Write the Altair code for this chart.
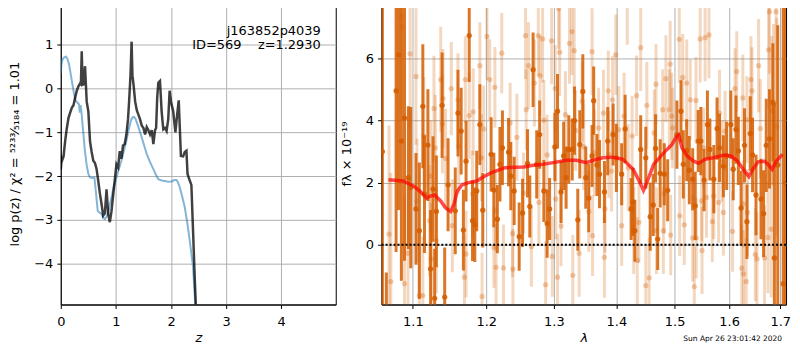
import altair as alt
import pandas as pd

FONT = "DejaVu Sans"

# ---------------- left panel: p(z) ----------------
z_pz = [0.0, 0.015, 0.03, 0.05, 0.08, 0.11, 0.14, 0.17, 0.20, 0.23,
        0.26, 0.29, 0.32, 0.35, 0.365, 0.38, 0.395, 0.41, 0.425, 0.44,
        0.455, 0.47, 0.50, 0.53, 0.56, 0.59, 0.62, 0.65, 0.68, 0.71,
        0.74, 0.77, 0.80, 0.83, 0.86, 0.89, 0.92, 0.94, 0.97, 1.01,
        1.04, 1.07, 1.10, 1.13, 1.16, 1.19, 1.22, 1.24, 1.265, 1.285,
        1.30, 1.32, 1.35, 1.38, 1.41, 1.44, 1.47, 1.50, 1.53, 1.56,
        1.59, 1.62, 1.65, 1.68, 1.71, 1.73, 1.75, 1.77, 1.80, 1.83,
        1.86, 1.89, 1.92, 1.95, 1.975, 2.0, 2.04, 2.08, 2.10, 2.14,
        2.16, 2.18, 2.22, 2.25, 2.28, 2.30, 2.34, 2.37, 2.40, 2.43,
        2.45, 2.48]
logp_pz = [-1.85, -1.58, -1.62, -1.55, -1.19, -0.90, -0.67, -0.55, -0.44, -0.38,
           -0.21, -0.05, 0.05, 0.12, 0.10, 0.85, 0.12, 0.07, 0.30, 0.51,
           0.10, -0.30, -0.52, -1.20, -1.45, -1.65, -1.70, -1.84, -2.11, -2.40,
           -2.64, -2.90, -2.85, -2.30, -2.86, -3.05, -2.80, -2.56, -2.20, -1.73,
           -1.80, -1.43, -1.60, -1.30, -1.27, -1.05, -0.70, -0.29, 0.30, 1.07,
           0.30, 0.09, -0.30, -0.50, -0.60, -0.71, -0.85, -0.90, -1.05, -0.88,
           -0.95, -1.05, -0.95, -1.27, -0.95, -0.90, -0.20, 0.13, 0.17, -0.52,
           -0.93, -0.90, -0.97, -0.70, -0.05, -0.30, -0.52, -1.00, -0.74, -0.27,
           -0.90, -1.54, -1.55, -1.45, -1.42, -1.95, -2.10, -2.20, -3.24, -4.30,
           -4.93, -5.60]

z_prior = [0.0, 0.01, 0.03, 0.06, 0.09, 0.12, 0.15, 0.18, 0.21, 0.24,
           0.27, 0.30, 0.33, 0.345, 0.36, 0.38, 0.41, 0.44, 0.47, 0.50,
           0.53, 0.57, 0.61, 0.64, 0.67, 0.71, 0.74, 0.77, 0.80, 0.83,
           0.86, 0.89, 0.92, 0.96, 1.01, 1.05, 1.10, 1.15, 1.19, 1.23,
           1.27, 1.30, 1.33, 1.36, 1.40, 1.44, 1.47, 1.52, 1.56, 1.62,
           1.68, 1.73, 1.77, 1.83, 1.89, 1.95, 2.01, 2.06, 2.10, 2.13,
           2.16, 2.20, 2.25, 2.30, 2.34, 2.40, 2.44, 2.48]
logp_prior = [0.35, 0.55, 0.66, 0.71, 0.73, 0.68, 0.55, 0.33, 0.10, -0.12,
              -0.28, -0.32, -0.36, -0.55, -0.38, -0.60, -1.04, -1.45, -1.75, -1.95,
              -2.03, -2.04, -2.03, -2.40, -2.79, -2.84, -2.86, -2.95, -2.98, -2.92,
              -2.84, -2.65, -2.49, -2.25, -2.03, -1.85, -1.65, -1.40, -1.19, -0.95,
              -0.74, -0.66, -0.65, -0.70, -0.85, -1.00, -1.12, -1.33, -1.50, -1.68,
              -1.84, -1.98, -2.07, -2.10, -2.11, -2.13, -2.12, -2.09, -2.09, -2.15,
              -2.26, -2.45, -2.71, -3.10, -3.47, -4.07, -4.93, -5.50]

label_lines = ["j163852p4039", "ID=569\u00a0\u00a0\u00a0\u00a0z=1.2930"]

z_ticks = [0, 1, 2, 3, 4]
logp_ticks = [-4, -3, -2, -1, 0, 1]

# ---------------- right panel: spectrum ----------------
lam_dark = [1.061, 1.066, 1.0784, 1.0815, 1.0852, 1.0892, 1.0942, 1.0973, 1.1041, 1.1085,
            1.1131, 1.1153, 1.1198, 1.1234, 1.1266, 1.1288, 1.1311, 1.1388, 1.1423, 1.1469,
            1.1567, 1.1604, 1.1648, 1.1679, 1.1716, 1.176, 1.1806, 1.1838, 1.1865, 1.1909,
            1.195, 1.2069, 1.2108, 1.2158, 1.2196, 1.2232, 1.2321, 1.2354, 1.2403, 1.2477,
            1.2527, 1.2601, 1.2635, 1.2684, 1.2739, 1.2783, 1.2847, 1.2897, 1.2935, 1.3016,
            1.3057, 1.3111, 1.3152, 1.319, 1.3232, 1.3286, 1.3322, 1.3374, 1.3406, 1.3454,
            1.3501, 1.3549, 1.3602, 1.3628, 1.3682, 1.3723, 1.3803, 1.3857, 1.3946, 1.4,
            1.4088, 1.4146, 1.4246, 1.4274, 1.4309, 1.4409, 1.4496, 1.4572, 1.4624, 1.4665,
            1.4702, 1.4745, 1.4817, 1.4877, 1.5041, 1.5113, 1.5155, 1.5216, 1.5263, 1.5324,
            1.5371, 1.5425, 1.5473, 1.5532, 1.5594, 1.564, 1.5712, 1.5773, 1.582, 1.5892,
            1.5953, 1.6033, 1.6078, 1.6131, 1.6176, 1.6229, 1.6294, 1.6341, 1.6406, 1.6451,
            1.6518, 1.6616, 1.6667, 1.672, 1.6784, 1.6851, 1.6882, 1.6949, 1.7059, 1.7105,
            1.7255]
flux_dark = [3.0, -3.2, 4.96, 6.12, 3.34, 4.08, 2.16, 1.84, 1.15, 0.45,
             4.46, 1.63, 3.21, -0.78, 1.79, -1.73, 1.07, 4.49, -1.69, 1.93,
             1.09, 4.24, 3.66, 0.47, 2.69, 6.74, 0.77, 0.64, 1.73, 3.87,
             1.11, 2.91, 1.76, 0.82, 2.59, 3.12, 2.98, 2.21, 1.73, 0.26,
             1.02, 2.62, 1.23, 5.64, 2.59, 3.55, 1.73, 0.68, 1.15, 3.15,
             4.30, 1.70, 2.86, 2.16, 3.07, 3.07, 4.00, 0.80, 3.23, 4.94,
             2.16, 1.50, 2.86, 4.64, 2.57, 2.27, 1.70, 3.34, 3.55, 2.80,
             2.27, 3.73, 1.15, 1.38, 0.45, 3.07, 2.80, 0.90, 1.28, 3.10,
             0.18, 2.30, 2.27, 1.75, 3.55, 4.30, 2.59, 3.04, 2.40, 2.11,
             1.25, 3.34, 3.34, 2.08, 3.87, 3.07, 2.11, 3.74, 3.12, 2.53,
             2.86, 3.87, 2.43, 3.71, 3.02, 1.18, 3.20, 0.74, 3.58, 2.89,
             1.60, 1.47, 1.00, 3.20, 3.41, 4.59, -0.43, 2.57, -1.26, 2.00,
             3.00]
err_dark = [9.0, 2.3, 5.2, 5.0, 4.5, 4.6, 2.3, 2.6, 1.8, 2.2,
            2.0, 1.9, 1.8, 1.9, 1.7, 1.6, 1.8, 1.7, 1.6, 1.5,
            1.4, 1.4, 1.4, 1.3, 1.3, 1.5, 1.3, 1.2, 1.3, 1.3,
            1.2, 1.2, 1.2, 1.1, 1.2, 1.2, 1.1, 1.1, 1.1, 1.1,
            1.1, 1.1, 1.0, 1.2, 1.1, 1.1, 1.0, 1.1, 1.0, 1.1,
            1.2, 1.0, 1.1, 1.0, 1.1, 1.0, 1.1, 1.0, 1.1, 1.2,
            1.0, 1.1, 1.0, 1.1, 1.0, 1.1, 1.0, 1.1, 1.0, 1.1,
            1.0, 1.1, 1.0, 1.1, 1.0, 1.1, 1.0, 1.1, 1.0, 1.1,
            1.0, 1.1, 1.0, 1.0, 1.1, 1.0, 1.1, 1.0, 1.1, 1.0,
            1.1, 1.0, 1.1, 1.0, 1.1, 1.0, 1.1, 1.0, 1.1, 1.0,
            1.1, 1.1, 1.0, 1.1, 1.1, 1.2, 1.2, 1.2, 1.2, 1.2,
            1.3, 1.3, 1.4, 1.5, 1.6, 1.9, 5.0, 4.5, 10.0, 10.0,
            10.0]

lam_light = [1.0694, 1.0717, 1.0847, 1.0861, 1.0892, 1.0937, 1.0964, 1.1041, 1.1054, 1.1085,
             1.1131, 1.1144, 1.122, 1.1234, 1.1243, 1.1279, 1.1297, 1.1311, 1.1369, 1.1392,
             1.1401, 1.1436, 1.1513, 1.1527, 1.1604, 1.1615, 1.1693, 1.1706, 1.1716, 1.176,
             1.1806, 1.1815, 1.1909, 1.1932, 1.194, 1.1963, 1.201, 1.2049, 1.2108, 1.2123,
             1.2133, 1.214, 1.2222, 1.2247, 1.2344, 1.2379, 1.2385, 1.2443, 1.2542, 1.2571,
             1.2581, 1.2615, 1.2659, 1.2704, 1.2763, 1.2772, 1.2788, 1.2828, 1.2847, 1.2874,
             1.2897, 1.2966, 1.2976, 1.3021, 1.303, 1.3057, 1.3073, 1.309, 1.3111, 1.3179,
             1.3243, 1.3281, 1.3295, 1.3317, 1.334, 1.3396, 1.3444, 1.3469, 1.3549, 1.3602,
             1.361, 1.3639, 1.3707, 1.3787, 1.3803, 1.3813, 1.3866, 1.3875, 1.392, 1.3936,
             1.3989, 1.404, 1.4088, 1.4128, 1.4181, 1.4198, 1.4263, 1.4291, 1.4339, 1.4351,
             1.4379, 1.4409, 1.4496, 1.4514, 1.4554, 1.4642, 1.4672, 1.468, 1.4789, 1.48,
             1.4817, 1.4846, 1.4905, 1.4921, 1.493, 1.4947, 1.4965, 1.5083, 1.509, 1.5144,
             1.5173, 1.5216, 1.5281, 1.5324, 1.5354, 1.5384, 1.539, 1.5461, 1.5487, 1.5495,
             1.5522, 1.5551, 1.5577, 1.5623, 1.5684, 1.5712, 1.5802, 1.582, 1.5863, 1.5892,
             1.5923, 1.6065, 1.6111, 1.6145, 1.6242, 1.6262, 1.627, 1.6275, 1.6327, 1.6341,
             1.6353, 1.642, 1.6439, 1.6504, 1.6537, 1.6569, 1.6602, 1.6686, 1.6753, 1.6765,
             1.6784, 1.6818, 1.6831, 1.6863, 1.6916, 1.693]
flux_light = [0.34, -1.19, 7.35, 7.03, -1.26, -0.28, 6.15, 5.42, 1.41, -1.64,
              -1.64, 3.50, 0.77, 2.21, -0.46, 4.39, 3.12, 0.13, 5.32, 3.89,
              4.71, 2.78, 5.03, 0.61, 4.67, 3.15, -1.05, 5.32, -0.30, 4.16,
              1.63, 4.28, 5.77, 2.80, -1.67, 3.73, 6.71, 5.32, -0.09, 5.07,
              1.09, -0.73, 6.17, -0.75, 3.92, 0.36, -0.79, 3.46, 1.66, 6.74,
              4.35, 5.77, -0.06, 5.21, 6.74, 1.36, 5.45, 6.63, 4.01, -1.29,
              2.89, 6.57, -0.38, 5.03, 1.47, -1.05, 7.61, 6.20, 0.60, 4.19,
              6.49, 6.87, -0.99, 6.25, 3.68, -0.28, 4.62, 3.15, 1.07, 6.22,
              0.29, 2.96, 3.76, 4.24, -0.41, 1.15, 4.96, 2.91, 2.37, 4.67,
              6.12, 3.71, 0.61, 4.14, 7.74, 2.48, 3.50, 0.45, 4.80, -0.51,
              0.72, 6.35, -1.32, 4.49, -1.07, 3.60, 5.17, 0.45, 4.35, 0.45,
              1.65, 5.35, 4.35, 5.82, 0.31, 4.14, 3.76, 6.62, 0.93, 5.39,
              0.64, 5.21, 4.67, 0.21, -1.35, 4.65, 0.21, 6.63, 1.41, -0.19,
              3.12, 6.67, 1.52, 6.76, 0.74, 1.57, 1.36, 4.24, 2.69, 1.04,
              3.66, 0.43, 5.03, 5.58, -0.76, 4.73, 1.31, -0.94, -1.19, 4.03,
              1.04, 5.32, 4.96, -0.32, -0.46, 5.77, 3.74, -0.43, 0.23, 6.28,
              7.51, 0.50, 4.32, 4.51, 7.51, 3.80]
err_light = [3.5, 3.5, 3.0, 3.0, 2.8, 2.5, 2.4, 2.2, 2.0, 2.0,
             1.9, 1.9, 1.8, 1.8, 1.8, 1.7, 1.7, 1.7, 1.7, 1.6,
             1.6, 1.6, 1.5, 1.5, 1.5, 1.5, 1.4, 1.4, 1.4, 1.4,
             1.4, 1.4, 1.4, 1.4, 1.4, 1.4, 1.4, 1.3, 1.3, 1.3,
             1.3, 1.4, 1.3, 1.4, 1.3, 1.4, 1.3, 1.4, 1.3, 1.4,
             1.3, 1.4, 1.3, 1.4, 1.3, 1.4, 1.3, 1.4, 1.3, 1.4,
             1.3, 1.4, 1.3, 1.4, 1.3, 1.4, 1.3, 1.4, 1.3, 1.4,
             1.3, 1.4, 1.3, 1.4, 1.3, 1.4, 1.3, 1.4, 1.3, 1.4,
             1.3, 1.4, 1.3, 1.4, 1.3, 1.4, 1.3, 1.4, 1.3, 1.4,
             1.3, 1.4, 1.3, 1.4, 1.3, 1.4, 1.3, 1.4, 1.3, 1.4,
             1.3, 1.4, 1.3, 1.4, 1.3, 1.4, 1.3, 1.4, 1.3, 1.4,
             1.3, 1.4, 1.3, 1.4, 1.3, 1.4, 1.3, 1.4, 1.3, 1.4,
             1.3, 1.4, 1.3, 1.4, 1.3, 1.4, 1.3, 1.4, 1.3, 1.4,
             1.3, 1.4, 1.3, 1.4, 1.3, 1.4, 1.3, 1.4, 1.3, 1.4,
             1.3, 1.3, 1.3, 1.3, 1.4, 1.4, 1.4, 1.4, 1.4, 1.4,
             1.4, 1.4, 1.4, 1.5, 1.5, 1.5, 1.6, 1.7, 1.8, 1.9,
             2.0, 2.2, 2.4, 2.6, 3.0, 3.5]

lam_model = [1.0686, 1.0874, 1.1009, 1.1099, 1.118, 1.1234, 1.1288, 1.1369, 1.1436, 1.1504,
             1.155, 1.1595, 1.1662, 1.1752, 1.1865, 1.1955, 1.2074, 1.2271, 1.2542, 1.269,
             1.2838, 1.3037, 1.3195, 1.3354, 1.3512, 1.3618, 1.3777, 1.3936, 1.4105, 1.4281,
             1.4397, 1.4456, 1.4514, 1.4632, 1.4807, 1.4953, 1.5023, 1.5072, 1.5131, 1.5221,
             1.5342, 1.5432, 1.5551, 1.5702, 1.5915, 1.6033, 1.6163, 1.6294, 1.638, 1.6458,
             1.6557, 1.6686, 1.6753, 1.6837, 1.6916, 1.7047]
flux_model = [2.09, 2.05, 1.89, 1.71, 1.50, 1.57, 1.60, 1.41, 1.18, 1.07,
              1.31, 1.73, 1.93, 2.00, 2.05, 2.18, 2.32, 2.48, 2.50, 2.56,
              2.59, 2.66, 2.72, 2.72, 2.64, 2.72, 2.80, 2.82, 2.75, 2.43,
              2.00, 1.75, 2.00, 2.59, 2.96, 3.23, 3.46, 3.53, 3.12, 2.86,
              2.69, 2.62, 2.75, 2.80, 2.89, 2.86, 2.69, 2.37, 2.19, 2.43,
              2.67, 2.69, 2.59, 2.43, 2.69, 2.91]

lam_ticks = [1.1, 1.2, 1.3, 1.4, 1.5, 1.6, 1.7]
flux_ticks = [0, 2, 4, 6]
timestamp = ["Sun Apr 26 23:01:42 2020"]

# ---------------- build ----------------
ORANGE = "#d55e00"

zx = alt.X("z:Q", scale=alt.Scale(domain=[0, 4.99], nice=False, zero=False),
           axis=alt.Axis(values=z_ticks, format="d", title="z", titleFontStyle="italic"))
zy = alt.Y("logp:Q", scale=alt.Scale(domain=[-4.93, 1.96], nice=False, zero=False),
           axis=alt.Axis(values=logp_ticks, format="d",
                         title="log p(z) / \u03c7\u00b2 = \u2075\u00b2\u00b3\u00b3\u2044\u2085\u2081\u2088\u2084 = 1.01"))

df_prior = pd.DataFrame({"z": z_prior, "logp": logp_prior})
df_pz = pd.DataFrame({"z": z_pz, "logp": logp_pz})

prior_line = alt.Chart(df_prior).mark_line(color="#1f77b4", opacity=0.55, strokeWidth=2, clip=True).encode(x=zx, y=zy)
pz_line = alt.Chart(df_pz).mark_line(color="black", opacity=0.75, strokeWidth=2.5, clip=True).encode(x=zx, y=zy)
lab1 = alt.Chart(pd.DataFrame({"t": [label_lines[0]]})).mark_text(
    align="right", baseline="middle", fontSize=13, font=FONT, color="black"
).encode(x=alt.value(261), y=alt.value(28), text="t:N")
lab2 = alt.Chart(pd.DataFrame({"t": [label_lines[1]]})).mark_text(
    align="right", baseline="middle", fontSize=13, font=FONT, color="black"
).encode(x=alt.value(261), y=alt.value(43), text="t:N")
left = alt.layer(prior_line, pz_line, lab1, lab2).properties(width=276, height=303)

lscale = alt.Scale(type="log", domain=[1.06, 1.7116], nice=False, zero=False)
fscale = alt.Scale(domain=[-1.93, 7.8], nice=False, zero=False)
lax = alt.Axis(values=lam_ticks, format=".1f", title="\u03bb", titleFontStyle="italic")
fax = alt.Axis(values=flux_ticks, format="d", title="f\u03bb \u00d7 10\u207b\u00b9\u2079")

df_dark = pd.DataFrame({"lam": lam_dark, "flux": flux_dark, "err": err_dark})
df_dark["lo"] = df_dark["flux"] - df_dark["err"]
df_dark["hi"] = df_dark["flux"] + df_dark["err"]
df_light = pd.DataFrame({"lam": lam_light, "flux": flux_light, "err": err_light})
df_light["lo"] = df_light["flux"] - df_light["err"]
df_light["hi"] = df_light["flux"] + df_light["err"]
df_model = pd.DataFrame({"lam": lam_model, "flux": flux_model})

X = alt.X("lam:Q", scale=lscale, axis=lax)
Yf = alt.Y("flux:Q", scale=fscale, axis=fax)
Ylo = alt.Y("lo:Q", scale=fscale, axis=fax)

light_bars = alt.Chart(df_light).mark_rule(color=ORANGE, opacity=0.25, strokeWidth=3, clip=True).encode(x=X, y=Ylo, y2="hi:Q")
light_pts = alt.Chart(df_light).mark_circle(color=ORANGE, opacity=0.3, size=28, clip=True).encode(x=X, y=Yf)
dark_bars = alt.Chart(df_dark).mark_rule(color=ORANGE, opacity=0.85, strokeWidth=3, clip=True).encode(x=X, y=Ylo, y2="hi:Q")
dark_pts = alt.Chart(df_dark).mark_circle(color=ORANGE, opacity=0.9, size=28, clip=True).encode(x=X, y=Yf)
model = alt.Chart(df_model).mark_line(color="red", opacity=0.7, strokeWidth=3.5, clip=True).encode(x=X, y=Yf)
zero = alt.Chart(pd.DataFrame({"flux": [0]})).mark_rule(color="black", strokeWidth=2, strokeDash=[2, 2]).encode(y=Yf)
stamp = alt.Chart(pd.DataFrame({"t": timestamp})).mark_text(
    align="right", baseline="middle", fontSize=7.5, font=FONT, color="black"
).encode(x=alt.value(402), y=alt.value(338), text="t:N")

right = alt.layer(light_bars, light_pts, dark_bars, dark_pts, model, zero, stamp).properties(width=406, height=303)

chart = alt.hconcat(left, right, spacing=46, bounds="flush").properties(
    padding={"top": -7, "left": 0, "right": 0, "bottom": 0}
).configure_axis(
    grid=True, gridColor="#b0b0b0", gridWidth=1, gridOpacity=1,
    domainColor="black", domainWidth=1, tickColor="black", tickSize=4,
    labelFont=FONT, labelFontSize=13, labelColor="black", labelPadding=4, labelFlush=False,
    titleFont=FONT, titleFontSize=13, titleFontWeight="normal", titleColor="black",
).configure_axisX(titlePadding=3, labelPadding=7).configure_axisY(titlePadding=12).configure_view(
    stroke="black", strokeWidth=1
)

chart.save("out.html", embed_options={"renderer": "svg", "actions": False})
